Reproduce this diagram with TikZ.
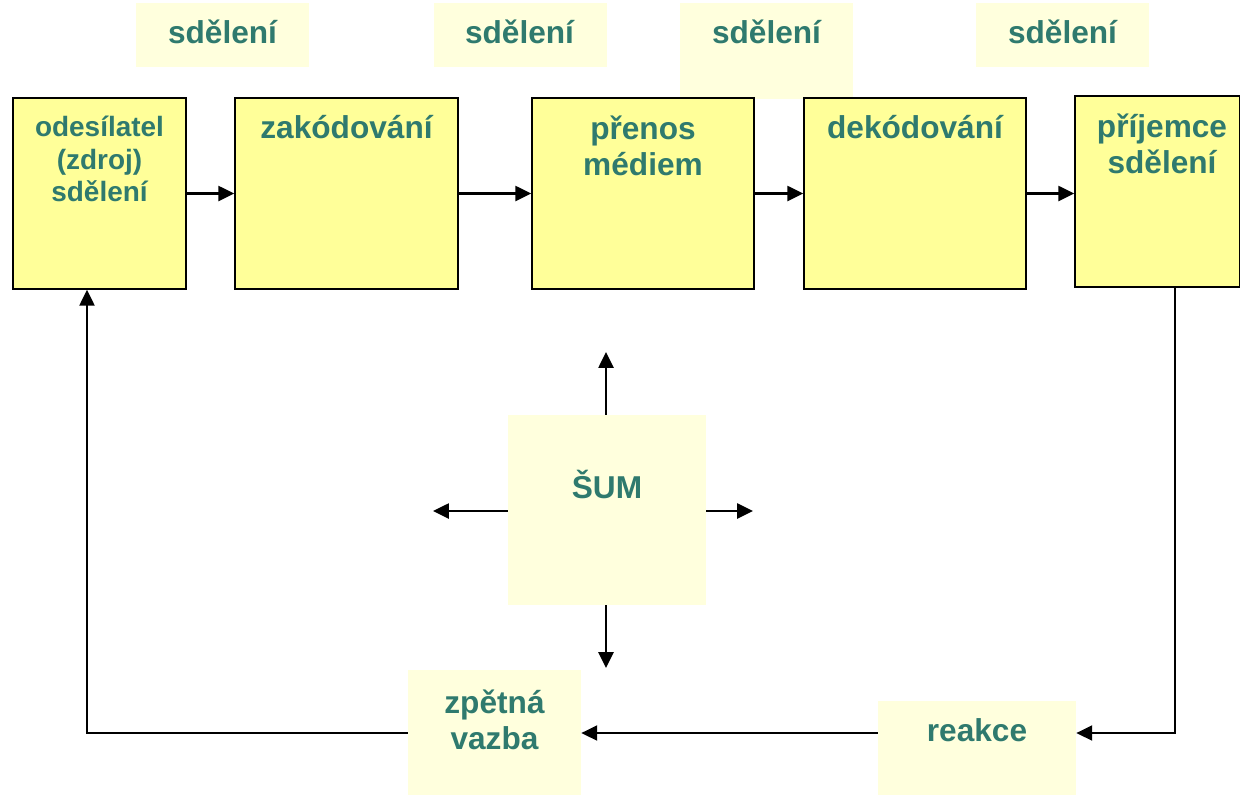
\documentclass[tikz,border=0pt]{standalone}
\usepackage{fontspec}
\setmainfont{Liberation Sans}
\usetikzlibrary{arrows.meta}

\definecolor{boxyellow}{RGB}{255,255,153}
\definecolor{paleyellow}{RGB}{255,255,221}
\definecolor{tealtext}{RGB}{47,122,110}

\tikzset{
  mainbox/.style={draw=black, line width=0.9pt, fill=boxyellow, minimum height=3.82cm},
  palebox/.style={fill=paleyellow, inner sep=0pt},
  txt/.style={text=tealtext, font=\bfseries\fontsize{18}{20.6}\selectfont, align=center, inner sep=0pt},
  smalltxt/.style={txt, font=\bfseries\fontsize{15.9}{18.4}\selectfont},
  conn/.style={line width=1.3pt, -{Triangle[length=9pt,width=8.5pt]}}
}

\begin{document}
\begin{tikzpicture}[x=0.02cm,y=-0.02cm]
        \useasboundingbox (0,0) rectangle (1240,795);

        % the messages above the chain
        \node[palebox, minimum width=3.46cm, minimum height=1.28cm] (sd1) at (222.5,35) {};
        \node[palebox, minimum width=3.46cm, minimum height=1.28cm] (sd2) at (520.5,35) {};
        \node[palebox, minimum width=3.46cm, minimum height=1.92cm] (sd3) at (766.5,51) {};
        \node[palebox, minimum width=3.46cm, minimum height=1.28cm] (sd4) at (1062.5,35) {};
        \node[txt] (t-sd1) at (222.5,32) {sdělení};
        \node[txt] (t-sd2) at (519.5,32) {sdělení};
        \node[txt] (t-sd3) at (766.5,32) {sdělení};
        \node[txt] (t-sd4) at (1062.5,32) {sdělení};

        % the chain of communication
        \node[mainbox, minimum width=3.46cm] (odes) at (99.5,193.5) {};
        \node[mainbox, minimum width=4.46cm] (zak) at (346.5,193.5) {};
        \node[mainbox, minimum width=4.44cm] (pren) at (643,193.5) {};
        \node[mainbox, minimum width=4.44cm] (dek) at (915,193.5) {};
        \node[mainbox, minimum width=3.3cm] (prij) at (1157.5,191.5) {};
        \node[smalltxt] (t-odes) at (99.5,159) {odesílatel\\(zdroj)\\sdělení};
        \node[txt] (t-zak) at (346.5,127) {zakódování};
        \node[txt] (t-pren) at (643,146) {přenos\\médiem};
        \node[txt] (t-dek) at (915,127) {dekódování};
        \node[txt] (t-prij) at (1162,144) {příjemce\\sdělení};

        \draw[conn] (odes) -- (zak);
        \draw[conn] (zak) -- (pren);
        \draw[conn] (pren) -- (dek);
        \draw[conn] (dek.east) -- (prij.west |- dek.east);

        % noise
        \node[palebox, minimum width=3.96cm, minimum height=3.8cm] (sum) at (607,510) {};
        \node[txt] (t-sum) at (607,484) {ŠUM};
        \coordinate (sum-up) at (606,352);
        \coordinate (sum-left) at (433,511);
        \coordinate (sum-right) at (753,511);
        \coordinate (sum-down) at (606,668);
        \draw[conn] (sum.north -| sum-up) -- (sum-up);
        \draw[conn] (sum.west |- sum-left) -- (sum-left);
        \draw[conn] (sum.east |- sum-right) -- (sum-right);
        \draw[conn] (sum.south -| sum-down) -- (sum-down);

        % feedback loop
        \node[palebox, minimum width=3.46cm, minimum height=2.5cm] (zpet) at (494.5,732.5) {};
        \node[palebox, minimum width=3.96cm, minimum height=1.88cm] (reak) at (977,748) {};
        \node[txt] (t-zpet) at (494.5,720) {zpětná\\vazba};
        \node[txt] (t-reak) at (977,730) {reakce};
        \coordinate (back-r) at (1175,733);
        \coordinate (back-l) at (87,733);
        \draw[conn] (prij.south -| back-r) -- (back-r) -- (reak.east |- back-r);
        \draw[conn] (reak.west |- back-r) -- (zpet.east |- back-r);
        \draw[conn] (zpet.west |- back-l) -- (back-l) -- (odes.south -| back-l);
    \end{tikzpicture}
\end{document}
